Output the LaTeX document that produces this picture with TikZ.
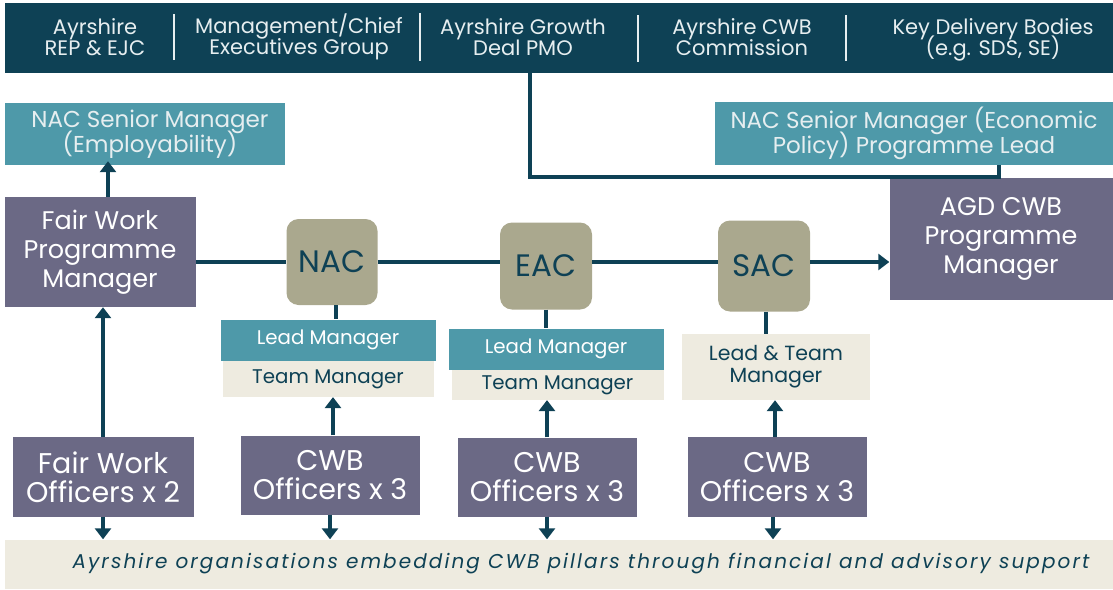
\documentclass[tikz,border=0pt]{standalone}
\usepackage{fontspec}
\setmainfont{Poppins}
\newfontfamily\spacedfont[LetterSpace=10.5]{Poppins}
\usetikzlibrary{arrows.meta}

\definecolor{deepteal}{HTML}{0E4155}
\definecolor{midteal}{HTML}{4E99A9}
\definecolor{slatepurple}{HTML}{6B6985}
\definecolor{khaki}{HTML}{AAA88E}
\definecolor{cream}{HTML}{EEEBE0}
\definecolor{paletext}{HTML}{E6EEF0}

\begin{document}
\lineskiplimit=-100pt
\begin{tikzpicture}[x=1pt,y=-1pt]
	\tikzstyle{box_base} = [rectangle, inner sep=0pt, align=center]
	\tikzstyle{box_banner} = [box_base, fill=deepteal, text=paletext]
	\tikzstyle{box_teal} = [box_base, fill=midteal, text=paletext, font=\fontsize{23}{25}\selectfont]
	\tikzstyle{box_purple} = [box_base, fill=slatepurple, text=white]
	\tikzstyle{box_council} = [box_base, fill=khaki, text=deepteal, rounded corners=12pt, font=\fontsize{31}{34}\selectfont]
	\tikzstyle{box_cream} = [box_base, fill=cream, text=deepteal, font=\fontsize{19.8}{22}\selectfont]
	\tikzstyle{box_lead} = [box_base, fill=midteal, text=white, font=\fontsize{19.8}{22}\selectfont]
	\tikzstyle{banner_text} = [text=paletext, align=center, inner sep=0pt, font=\fontsize{21}{21.5}\selectfont]
	\tikzstyle{divider} = [draw=paletext, line width=1.6pt]
	\tikzstyle{link} = [draw=deepteal, line width=4pt]
	\tikzstyle{link_arrow} = [link, -{Triangle[width=16pt,length=11pt]}]

	\useasboundingbox (0,0) rectangle (1113,589);

%------------------------------------------------------------
	\node[box_banner, minimum width=1108pt, minimum height=70pt] (banner) at (559,38) {};

	\node[banner_text] (rep) at (95,37) {Ayrshire\\REP \& EJC};
	\node[banner_text] (exec) at (299,37) {Management/Chief\\Executives Group};
	\node[banner_text] (pmo) at (523,37) {Ayrshire Growth\\Deal PMO};
	\node[banner_text] (comm) at (742,37) {Ayrshire CWB\\Commission};
	\node[banner_text] (kdb) at (993,40) {Key Delivery Bodies\\(e.g. SDS, SE)};

	\draw[divider] (174,14) -- (174,60);
	\draw[divider] (420,13) -- (420,61);
	\draw[divider] (638,15) -- (638,62);
	\draw[divider] (846,15) -- (846,61);

%------------------------------------------------------------
	\node[box_teal, minimum width=280pt, minimum height=62pt] (lead_emp) at (145,134) {\hspace*{10pt}NAC Senior Manager\\\hspace*{10pt}(Employability)};
	\node[box_teal, minimum width=398pt, minimum height=63pt] (lead_econ) at (914,133) {NAC Senior Manager (Economic\\Policy) Programme Lead};

	\node[box_purple, minimum width=191pt, minimum height=110pt, font=\fontsize{25.5}{29}\selectfont] (fwpm) at (100,252) {Fair Work\\Programme\\Manager};
	\node[box_purple, minimum width=223pt, minimum height=122pt, font=\fontsize{25.5}{29}\selectfont] (agd) at (1001,239) {AGD CWB\\Programme\\Manager};

%------------------------------------------------------------
	\node[box_council, minimum width=91pt, minimum height=86pt] (nac) at (332,262) {NAC};
	\node[box_council, minimum width=92pt, minimum height=87pt] (eac) at (546,266) {EAC};
	\node[box_council, minimum width=92pt, minimum height=91pt] (sac) at (764,266) {SAC};

	\node[box_lead, minimum width=215pt, minimum height=41pt] (nac_lead) at (328,340) {Lead Manager};
	\node[box_cream, minimum width=211pt, minimum height=36pt, anchor=north] (nac_team) at (nac_lead.south) {Team Manager};

	\node[box_lead, minimum width=215pt, minimum height=41pt] (eac_lead) at (556,349) {Lead Manager};
	\node[box_cream, minimum width=212pt, minimum height=30pt, anchor=north] (eac_team) at ([xshift=1.5pt]eac_lead.south) {Team Manager};

	\node[box_cream, minimum width=188pt, minimum height=66pt, font=\fontsize{20.5}{22}\selectfont] (sac_team) at (776,367) {Lead \& Team\\Manager};

%------------------------------------------------------------
	\node[box_purple, minimum width=181pt, minimum height=80pt, font=\fontsize{28.5}{29}\selectfont] (fwo) at (103,477) {Fair Work\\Officers x 2};
	\node[box_purple, minimum width=179pt, minimum height=79pt, font=\fontsize{28.5}{29}\selectfont] (nac_cwb) at (330,475) {CWB\\Officers x 3};
	\node[box_purple, minimum width=179pt, minimum height=79pt, font=\fontsize{28.5}{29}\selectfont] (eac_cwb) at (547,477) {CWB\\Officers x 3};
	\node[box_purple, minimum width=179pt, minimum height=80pt, font=\fontsize{28.5}{29}\selectfont] (sac_cwb) at (777,477) {CWB\\Officers x 3};

	\node[box_cream, minimum width=1108pt, minimum height=49pt, font=\spacedfont\itshape\fontsize{20}{20}\selectfont] (orgs) at (559,564) {\hspace*{44pt}Ayrshire organisations embedding CWB pillars through financial and advisory support};

%------------------------------------------------------------
	\coordinate (pmo_out) at (530,0);
	\coordinate (econ_in) at (999,177);
	\draw[link] (pmo_out |- banner.south) |- (econ_in) -- (econ_in |- lead_econ.south);

	\draw[link_arrow] (fwpm.north -| 108,0) -- ([yshift=4pt]lead_emp.south -| 108,0);
	\draw[link_arrow] (fwo.north) -- (fwo.north |- fwpm.south);

	\draw[link] (fwpm.east |- nac.west) -- (nac.west);
	\draw[link] (nac.east) -- (nac.east -| eac.west);
	\draw[link] (nac.east -| eac.east) -- (nac.east -| sac.west);
	\draw[link_arrow] (nac.east -| sac.east) -- (nac.east -| agd.west);

	\draw[link] (nac.south -| 336,0) -- (nac_lead.north -| 336,0);
	\draw[link] (eac.south) -- (eac_lead.north -| eac.south);
	\draw[link] (sac.south -| 766,0) -- (sac_team.north -| 766,0);

	\draw[link_arrow] (nac_cwb.north -| 333,0) -- (nac_team.south -| 333,0);
	\draw[link_arrow] (eac_cwb.north) -- (eac_team.south -| eac_cwb.north);
	\draw[link_arrow] (sac_cwb.north -| 775,0) -- (sac_team.south -| 775,0);

	\draw[link_arrow] (fwo.south) -- (fwo.south |- orgs.north);
	\draw[link_arrow] (nac_cwb.south) -- (nac_cwb.south |- orgs.north);
	\draw[link_arrow] (eac_cwb.south) -- (eac_cwb.south |- orgs.north);
	\draw[link_arrow] (sac_cwb.south -| 773,0) -- (orgs.north -| 773,0);

\end{tikzpicture}
\end{document}
